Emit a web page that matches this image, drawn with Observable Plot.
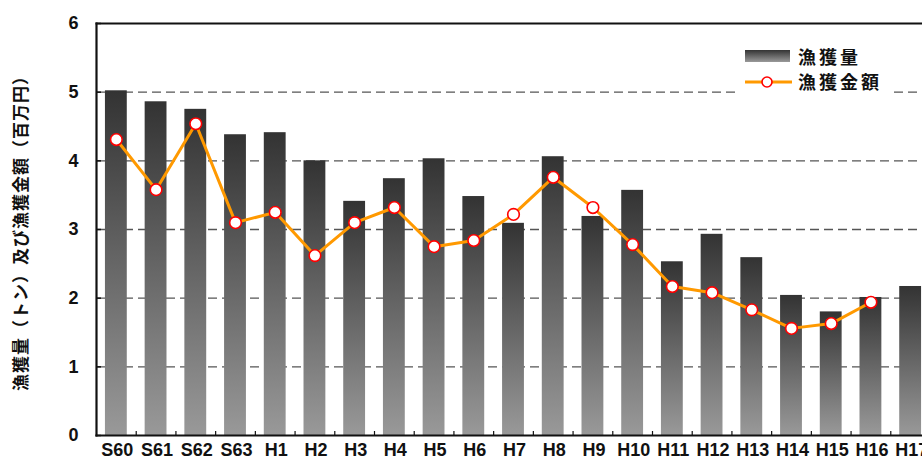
<!DOCTYPE html>
<html><head><meta charset="utf-8">
<script src="https://cdn.jsdelivr.net/npm/d3@7"></script>
<script src="https://cdn.jsdelivr.net/npm/@observablehq/plot@0.6"></script>
<style>html,body{margin:0;padding:0;background:#fff;overflow:hidden;}</style>
</head><body><div id="chart"></div>
<script>
const categories = ["S60","S61","S62","S63","H1","H2","H3","H4","H5","H6","H7","H8","H9","H10","H11","H12","H13","H14","H15","H16","H17"];
const catchTons = [5.02,4.86,4.75,4.38,4.41,4.00,3.41,3.74,4.03,3.48,3.09,4.06,3.19,3.57,2.53,2.93,2.59,2.04,1.80,2.01,2.17];
const catchValue = [4.31,3.58,4.54,3.10,3.25,2.62,3.10,3.32,2.75,2.84,3.22,3.76,3.32,2.78,2.17,2.08,1.83,1.56,1.63,1.94,null];
const yTicks = [0,1,2,3,4,5,6];
const gridValues = [1,2,3,4,5];
const yTitle = "漁獲量（トン）及び漁獲金額（百万円）";
const legendLabels = ["漁獲量","漁獲金額"];

const rows = categories.map((c,i)=>({year:c, tons:catchTons[i], value:catchValue[i]}));
const lineRows = rows.filter(d=>d.value!=null);
const step = (930-96)/categories.length;

const plot = Plot.plot({
  width: 922, height: 469,
  marginLeft: 96, marginRight: 0, marginTop: 23, marginBottom: 34,
  x: {type:"band", domain: categories, range:[96, 930], paddingInner:0.45, paddingOuter:0.225, round:false, label:null},
  y: {domain:[0,6], range:[435,23], label:null},
  style: {fontFamily:"'Liberation Sans', Arial, sans-serif", overflow:"hidden", background:"#fff", color:"#111"},
  marks: [
    Plot.ruleY(gridValues, {stroke:"#555", strokeWidth:1.3, strokeDasharray:"9,5"}),
    Plot.barY(rows, {x:"year", y:"tons", fill:"url(#barGrad)"}),
    Plot.line(lineRows, {x:"year", y:"value", stroke:"#FF9900", strokeWidth:3}),
    Plot.dot(lineRows, {x:"year", y:"value", r:5.8, fill:"white", stroke:"#FF0000", strokeWidth:1.6}),
    Plot.axisY(yTicks, {tickSize:-5, tickPadding:23, tickFormat:d3.format("d"), fontSize:18, fontWeight:"bold", stroke:"#111", strokeWidth:1.5}),
    Plot.axisX({tickSize:0, tickPadding:8, fontSize:18, fontWeight:"bold", letterSpacing:"2px", dx:1}),
    Plot.axisX(categories.slice(0,-1), {tickSize:-4, tickFormat:()=>"", dx:step/2, strokeWidth:1.2}),
    Plot.frame({anchor:"left", strokeWidth:2.2}),
    Plot.frame({anchor:"bottom", strokeWidth:2.2}),
    Plot.frame({anchor:"top", strokeWidth:2})
  ]
});
document.getElementById("chart").appendChild(plot);

const svg = d3.select(plot);
const defs = svg.insert("defs", ":first-child");
const g = defs.append("linearGradient").attr("id","barGrad").attr("x1",0).attr("y1",0).attr("x2",0).attr("y2",1);
g.append("stop").attr("offset","0%").attr("stop-color","#333333");
g.append("stop").attr("offset","100%").attr("stop-color","#999999");

// y axis title
svg.append("text")
  .attr("transform","translate(19,229) rotate(-90)")
  .attr("text-anchor","middle").attr("dominant-baseline","central")
  .style("font-family","'Noto Sans CJK JP', sans-serif").style("font-weight","bold")
  .style("font-size","17px").style("letter-spacing","1px").attr("fill","#111")
  .text(yTitle);

// legend
const lg = svg.append("g");
lg.append("rect").attr("x",735).attr("y",38).attr("width",158).attr("height",58).attr("fill","#fff");
lg.append("rect").attr("x",745).attr("y",50).attr("width",45).attr("height",12).attr("fill","url(#barGrad)");
lg.append("line").attr("x1",745).attr("x2",792).attr("y1",82).attr("y2",82).attr("stroke","#FF9900").attr("stroke-width",3);
lg.append("circle").attr("cx",767).attr("cy",82).attr("r",5).attr("fill","#fff").attr("stroke","#FF0000").attr("stroke-width",1.6);
legendLabels.forEach((t,i)=>{
  lg.append("text").attr("x",798).attr("y",56+i*25).attr("dominant-baseline","central").attr("text-anchor","start")
    .style("font-family","'Noto Sans CJK JP', sans-serif").style("font-weight","bold")
    .style("font-size","18px").style("letter-spacing","3px").attr("fill","#111").text(t);
});
</script></body></html>
